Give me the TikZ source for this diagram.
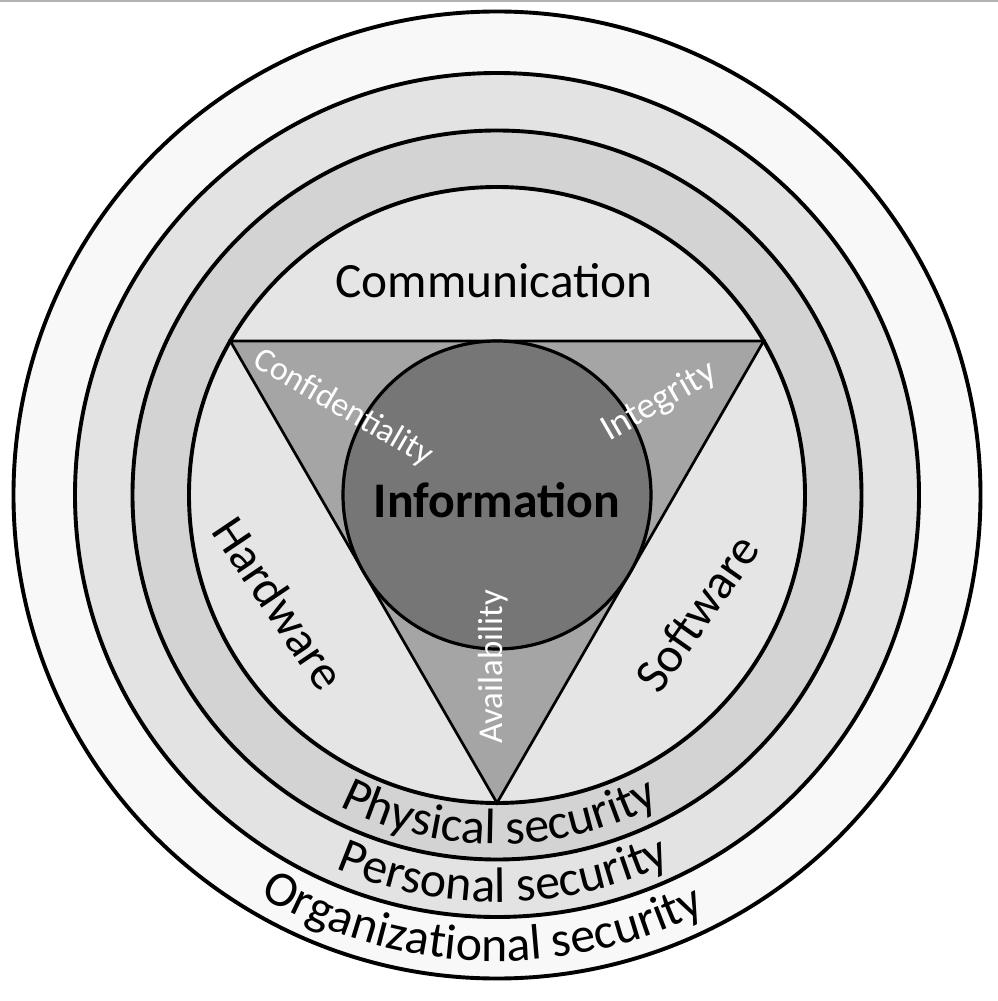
\documentclass[tikz,border=0pt]{standalone}
\usepackage{fontspec}
\setmainfont{Carlito}
\usetikzlibrary{decorations.text}
\definecolor{ringA}{HTML}{F8F8F8}
\definecolor{ringB}{HTML}{E3E3E3}
\definecolor{ringC}{HTML}{D3D3D3}
\definecolor{innerD}{HTML}{E5E5E5}
\definecolor{triF}{HTML}{A5A5A5}
\definecolor{infoF}{HTML}{767676}
\newcommand{\bigfont}{\fontsize{49.5}{58}\selectfont}
\newcommand{\smallfont}{\fontsize{34}{40}\selectfont}
\newcommand{\arcfont}{\fontsize{50}{58}\selectfont}
\begin{document}
\begin{tikzpicture}[x=1bp,y=1bp,
  ringline/.style={draw=black, line width=3.9bp},
  bigtext/.style={font=\bigfont, inner sep=0pt, text=black},
  cia/.style={font=\smallfont, inner sep=0pt, text=white},
  arctext/.style={decorate, decoration={text along path, text align=center, text={|\arcfont|#1}}}
]
\useasboundingbox (-497,-506) rectangle (501,495);
\fill[white] (-497,-506) rectangle (501,495);
\draw[black!30, line width=2bp] (-497,494) -- (501,494);
% rings
\draw[ringline, fill=ringA] (0,0) circle[radius=483.5bp];
\draw[ringline, fill=ringB] (0,0) circle[radius=422bp];
\draw[ringline, fill=ringC] (0,0) circle[radius=364.5bp];
\draw[ringline, fill=innerD] (0,0) circle[radius=308bp];
% triangle
\coordinate (tl) at (150:308bp);
\coordinate (tr) at (30:308bp);
\coordinate (bt) at (270:308bp);
\draw[black, line width=2.7bp, line join=miter, fill=triF] (tl) -- (tr) -- (bt) -- cycle;
% information circle
\draw[black, line width=3.2bp, fill=infoF] (0,0) circle[radius=154bp];
% labels
\node[bigtext, anchor=base] (comm) at (-3,197) {Communication};
\node[bigtext, anchor=base, font=\fontsize{50}{58}\selectfont\bfseries] (info) at (0,-22) {Information};
\node[bigtext, rotate=-56] (hw) at (-218,-108) {Hardware};
\node[bigtext, rotate=55] (sw) at (200,-118) {Software};
\node[cia, rotate=-30] (conf) at (-154,87) {Confidentiality};
\node[cia, rotate=30, font=\fontsize{37}{44}\selectfont] (integ) at (162,93) {Integrity};
\node[cia, rotate=90, font=\fontsize{35}{42}\selectfont] (avail) at (-3.5,-172) {Availability};
% curved labels
\path[arctext={Physical security}] (200:349bp) arc[start angle=200, end angle=341, radius=349bp];
\path[arctext={Personal security}] (200:407bp) arc[start angle=200, end angle=342, radius=407bp];
\path[arctext={Organizational security}] (200:466bp) arc[start angle=200, end angle=336, radius=466bp];
\end{tikzpicture}
\end{document}
